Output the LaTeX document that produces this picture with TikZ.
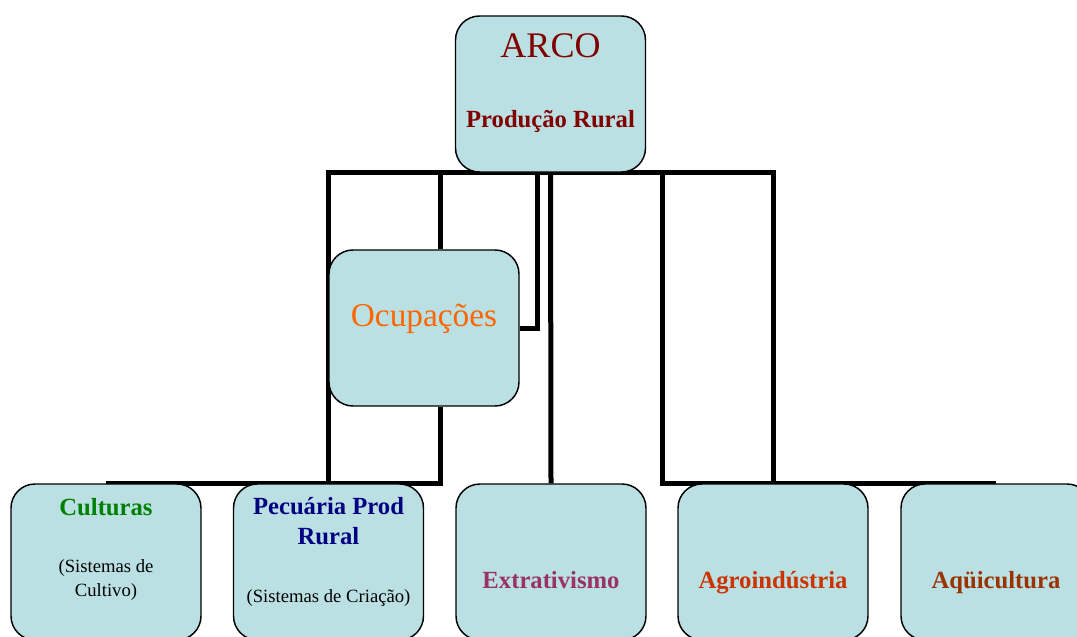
\documentclass[tikz,border=0pt]{standalone}
\usepackage{fontspec}
\setmainfont{Liberation Serif}
\usetikzlibrary{backgrounds}

\definecolor{boxfill}{HTML}{BBE0E3}
\definecolor{arcored}{HTML}{800000}
\definecolor{ocuporange}{HTML}{FF6600}
\definecolor{cultgreen}{HTML}{008000}
\definecolor{pecunavy}{HTML}{000080}
\definecolor{extrplum}{HTML}{993366}
\definecolor{agrored}{HTML}{CC3300}
\definecolor{aquibrown}{HTML}{993300}

\begin{document}
\begin{tikzpicture}[
    x=0.75pt, y=-0.75pt,
    box/.style = {rectangle, rounded corners=18pt, minimum width=142.5pt, minimum height=117pt,
                  draw=black, line width=1.1pt, fill=boxfill},
    head/.style = {font=\fontsize{18.5}{22}\selectfont\bfseries, align=center},
    note/.style = {font=\fontsize{14}{17.5}\selectfont, align=center},
    link/.style = {draw=black, line width=3.75pt}
]

\useasboundingbox (0,0) rectangle (1077,636);
\clip (0,0) rectangle (1077,636);

% Boxes
\node (arco) [box] at (550.5, 94) {};
\node (ocup) [box] at (424, 328) {};
\node (cult) [box] at (106, 562) {};
\node (pecu) [box] at (328.5, 562) {};
\node (extr) [box] at (551, 562) {};
\node (agro) [box] at (773, 562) {};
\node (aqui) [box] at (996, 562) {};

% Texts
\node (arconame) [font=\fontsize{27}{32}\selectfont, text=arcored] at (550.5, 46) {ARCO};
\node (arcosub) [head, text=arcored] at (550.5, 121) {Produção Rural};
\node (ocupname) [font=\fontsize{25}{30}\selectfont, text=ocuporange] at (424, 319) {Ocupações};
\node (cultname) [head, text=cultgreen] at (106, 507) {Culturas};
\node (cultnote) [note] at (106, 580) {(Sistemas de\\Cultivo)};
\node (pecuname) [head, text=pecunavy] at (328.5, 521) {Pecuária Prod\\Rural};
\node (pecunote) [note] at (328.5, 598) {(Sistemas de Criação)};
\node (extrname) [head, text=extrplum] at (551, 580) {Extrativismo};
\node (agroname) [head, text=agrored] at (773, 583) {Agroindústria};
\node (aquiname) [head, text=aquibrown] at (996, 583) {Aqüicultura};

% Junction points of the lines
\coordinate (ocupleg) at ([xshift=12pt]ocup.south);
\coordinate (ocuptop) at ([xshift=12pt]ocup.north);
\coordinate (ocupside) at ([xshift=-10pt]arco.south);
\coordinate (agroleg) at ([xshift=-83.25pt]agro.north);

% Lines behind the boxes
\begin{scope}[on background layer]
    \draw [link] (pecu.north) |- (arco.south) -| (agro.north);
    \draw [link] (arco.south) -- (extr.north);
    \draw [link] (ocuptop) |- (arco.south);
    \draw [link] (ocup.east) -| (ocupside);
    \draw [link] (cult.north) -| (ocupleg);
    \draw [link] (aqui.north) -| (agroleg) |- (arco.south);
\end{scope}

\end{tikzpicture}
\end{document}
